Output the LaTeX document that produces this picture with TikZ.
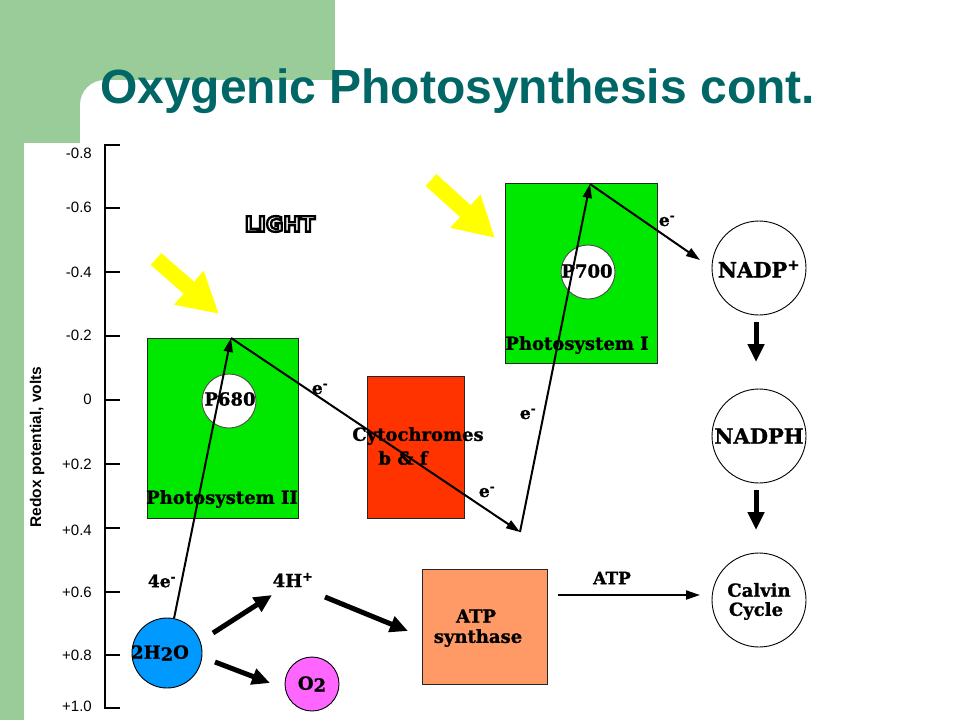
\documentclass[tikz,border=0pt]{standalone}
\usepackage{fontspec}
\setmainfont{Liberation Sans}
\newfontfamily\dia{DejaVu Serif}[BoldFeatures={FakeBold=1.2}]
\newfontfamily\lightfont{DejaVu Sans Bold}[FakeBold=11]
\usetikzlibrary{arrows.meta,calc}
\definecolor{bggreen}{RGB}{153,204,153}
\definecolor{titlecol}{RGB}{0,102,102}
\definecolor{psgreen}{RGB}{0,232,0}
\definecolor{cytored}{RGB}{255,51,0}
\definecolor{atpcol}{RGB}{255,153,102}
\definecolor{watercol}{RGB}{0,153,255}
\definecolor{oxcol}{RGB}{255,102,255}
\definecolor{lightyel}{RGB}{255,255,0}
\tikzset{
  box/.style={draw=black!85, line width=1pt, inner sep=0pt},
  dtext/.style={font=\dia\bfseries\fontsize{18}{20}\selectfont, inner sep=0pt},
  btext/.style={font=\dia\bfseries\fontsize{21}{22}\selectfont, inner sep=0pt},
  etext/.style={font=\dia\bfseries\fontsize{17}{18}\selectfont, inner sep=0pt},
  ticklab/.style={anchor=east, font=\fontsize{15}{15}\selectfont, inner sep=0pt},
  earrow/.style={line width=2pt, -{Triangle[length=14pt,width=9pt]}},
  fatarrow/.style={line width=5pt, -{Triangle[length=18pt,width=16pt]}},
  sunarrow/.style={lightyel, line width=16pt, -{Triangle[length=40pt,width=42pt]}},
  ring/.style={circle, draw=black, line width=0.9pt, fill=white, inner sep=0pt},
}
\begin{document}
\begin{tikzpicture}[x=1pt,y=-1pt]
\useasboundingbox (0,0) rectangle (960,720);
% background
\fill[bggreen] (0,0) rectangle (960,720);
\fill[white] (335,0) rectangle (960,80);
\fill[white, rounded corners=25pt] (80,80) rectangle (1000,760);
\fill[white] (24,143) rectangle (960,720);
% title
\node[anchor=base west, text=titlecol, font=\bfseries\fontsize{48}{48}\selectfont, inner sep=0pt] (title) at (100,103) {Oxygenic Photosynthesis cont.};
% axis
\draw[line width=1.2pt] (120,145) -- (105,145) -- (105,708) -- (120,708);
\foreach \yy in {208,272,336,400,464,528,592,655} \draw[line width=1.2pt] (105,\yy) -- (120,\yy);
\node[ticklab] (l1) at (92,153) {-0.8};
\node[ticklab] (l2) at (92,207) {-0.6};
\node[ticklab] (l3) at (92,272) {-0.4};
\node[ticklab] (l4) at (92,335) {-0.2};
\node[ticklab] (l5) at (92,399) {0};
\node[ticklab] (l6) at (92,464) {+0.2};
\node[ticklab] (l7) at (92,530) {+0.4};
\node[ticklab] (l8) at (92,592) {+0.6};
\node[ticklab] (l9) at (92,655) {+0.8};
\node[ticklab] (l10) at (92,706) {+1.0};
\node[rotate=90, font=\bfseries\fontsize{15.5}{15.5}\selectfont, inner sep=0pt] (ylab) at (37,447) {Redox potential, volts};
% light (white letters with black outline)
\node[inner sep=0pt] (light) at (280,224) {\special{pdf:literal 1 1 1 rg 0 0 0 RG}\lightfont\fontsize{21}{21}\selectfont LIGHT};
% yellow arrows
\coordinate (s1a) at (156,259); \coordinate (s1b) at (219,314);
\coordinate (s2a) at (431,180); \coordinate (s2b) at (495,238);
\draw[sunarrow] (s1a) -- (s1b);
\draw[sunarrow] (s2a) -- (s2b);
% boxes
\node[box, fill=psgreen, minimum width=151pt, minimum height=180pt] (ps2) at (222.5,428) {};
\node[box, fill=psgreen, minimum width=152pt, minimum height=180pt] (ps1) at (581,273) {};
\node[box, fill=cytored, minimum width=97pt, minimum height=142pt] (cyt) at (415.5,447) {};
\node[box, fill=atpcol, minimum width=125pt, minimum height=115pt] (atps) at (484.5,626.5) {};
\node[ring, minimum size=54pt, draw=black!70] (p680) at (229,401) {};
\node[ring, minimum size=54pt, draw=black!70] (p700) at (588,272) {};
\node[ring, minimum size=94pt] (nadp) at (759,268) {};
\node[ring, minimum size=94pt] (nadph) at (759,436) {};
\node[ring, minimum size=94pt] (calvin) at (759,600) {};
\node[circle, draw=black, line width=0.9pt, fill=watercol, minimum size=70pt, inner sep=0pt] (h2o) at (167,653) {};
\node[circle, draw=black, line width=0.9pt, fill=oxcol, minimum size=54pt, inner sep=0pt] (o2) at (312,684) {};
% texts
\node[dtext] (t680) at (230,399) {P680};
\node[dtext] (t700) at (587,271) {P700};
\node[dtext] (tps2) at (222,499) {Photosystem II};
\node[dtext] (tps1) at (577,345) {Photosystem I};
\node[dtext] (tcyt1) at (418,436) {Cytochromes};
\node[dtext] (tcyt2) at (403,458) {b \& f};
\node[dtext] (tatp1) at (476,616) {ATP};
\node[dtext] (tatp2) at (478,638) {synthase};
\node[btext] (tnadp) at (759,269) {NADP\textsuperscript{+}};
\node[btext] (tnadph) at (759,436) {NADPH};
\node[dtext] (tcal1) at (759,590) {Calvin};
\node[dtext] (tcal2) at (756,611) {Cycle};
\node[dtext] (th2o) at (160,653) {2H\raisebox{-2pt}{2}O};
\node[dtext] (to2) at (312,684) {O\raisebox{-2pt}{2}};
\node[dtext] (t4h) at (293,580) {4H\textsuperscript{+}};
\node[etext] (t4e) at (162,581) {4e\textsuperscript{-}};
\node[etext] (tatp) at (612,578) {ATP};
\node[etext] (e1) at (320,389) {e\textsuperscript{-}};
\node[etext] (e2) at (487,492) {e\textsuperscript{-}};
\node[etext] (e3) at (528,414) {e\textsuperscript{-}};
\node[etext] (e4) at (667,221) {e\textsuperscript{-}};
% electron path
\coordinate (v1) at (231,338);
\coordinate (v2) at (520,532);
\coordinate (v3) at (590,184);
\coordinate (nadpin) at (700,260);
\draw[earrow] (h2o) -- (v1);
\draw[earrow] (v1) -- (v2);
\draw[earrow] (v2) -- (v3);
\draw[earrow] (v3) -- (nadpin);
% ATP arrow
\coordinate (atpa) at (558,595); \coordinate (atpb) at (700,595);
\draw[earrow] (atpa) -- (atpb);
% fat arrows
\coordinate (f1a) at (213,633); \coordinate (f1b) at (272,595);
\coordinate (f2a) at (215,662); \coordinate (f2b) at (270,683);
\coordinate (f3a) at (325,597); \coordinate (f3b) at (408,631);
\coordinate (d1a) at (756,322); \coordinate (d1b) at (756,362);
\coordinate (d2a) at (756,490); \coordinate (d2b) at (756,530);
\draw[fatarrow] (f1a) -- (f1b);
\draw[fatarrow] (f2a) -- (f2b);
\draw[fatarrow] (f3a) -- (f3b);
\draw[fatarrow] (d1a) -- (d1b);
\draw[fatarrow] (d2a) -- (d2b);
\end{tikzpicture}
\end{document}
